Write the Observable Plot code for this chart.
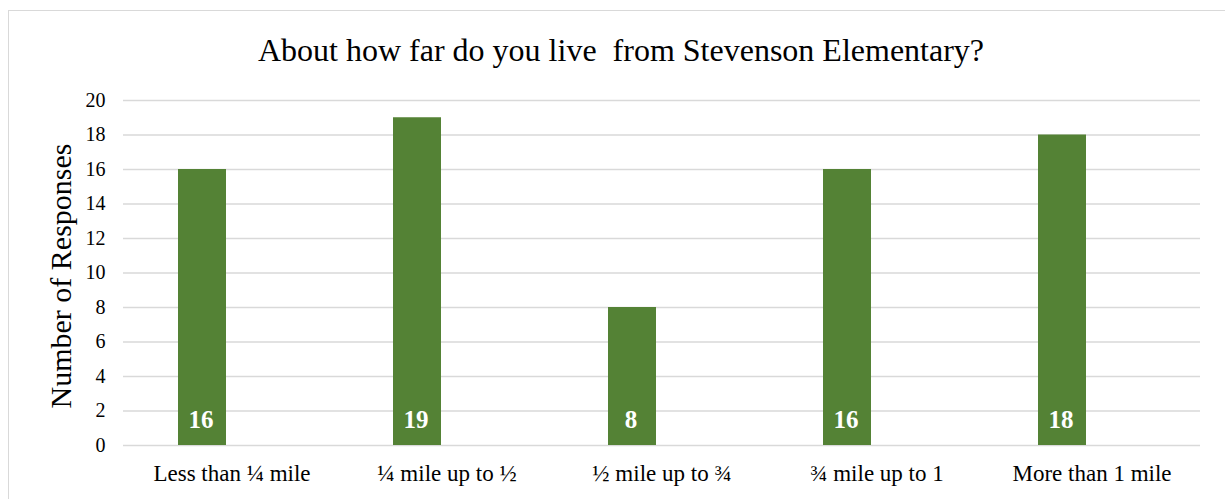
<!DOCTYPE html>
<html>
<head>
<meta charset="utf-8">
<script src="https://cdn.jsdelivr.net/npm/d3@7"></script>
<script src="https://cdn.jsdelivr.net/npm/@observablehq/plot@0.6"></script>
<style>
  body { margin: 0; background: #fff; }
  #wrap { position: relative; width: 1225px; height: 499px; overflow: hidden; }
  #border { position: absolute; left: 8px; top: 10px; width: 1240px; height: 520px; border: 1.5px solid #d9d9d9; box-sizing: border-box; }
  #chart { position: absolute; left: 0; top: 0; }
  #chart svg, #chart svg text { font-family: "Liberation Serif", "DejaVu Serif", serif !important; }
</style>
</head>
<body>
<div id="wrap"><div id="border"></div><div id="chart"></div></div>
<script>
const categories = ["Less than ¼ mile", "¼ mile up to ½", "½ mile up to ¾", "¾ mile up to 1", "More than 1 mile"];
const responses = [16, 19, 8, 16, 18];
const yTicks = [0, 2, 4, 6, 8, 10, 12, 14, 16, 18, 20];
const title = "About how far do you live  from Stevenson Elementary?";
const yLabel = "Number of Responses";

const data = categories.map((c, i) => ({category: c, value: responses[i]}));

const serif = "Liberation Serif, DejaVu Serif, serif";
const chart = Plot.plot({
  width: 1225,
  height: 499,
  marginTop: 100,
  marginBottom: 54,
  marginLeft: 123,
  marginRight: 25,
  style: {fontFamily: serif, background: "transparent", color: "#000"},
  x: {domain: categories, padding: 0},
  y: {domain: [0, 20]},
  marks: [
    Plot.ruleY(yTicks, {stroke: "#d9d9d9", strokeWidth: 1.5}),
    Plot.barY(data, {x: "category", y: "value", fill: "#548235", insetLeft: 54, insetRight: 113}),
    Plot.text(data, {x: "category", y: 0, text: d => String(d.value), dx: -31, dy: -26, fill: "#fff", fontWeight: "bold", fontSize: 25, fontFamily: serif}),
    Plot.axisY({ticks: yTicks, tickSize: 0, tickPadding: 18, fontSize: 20, label: null, fontFamily: serif}),
    Plot.axisX({tickSize: 0, tickPadding: 19, fontSize: 23, label: null, fontFamily: serif}),
    Plot.text([yLabel], {frameAnchor: "left", textAnchor: "middle", dx: -62, dy: 3, rotate: -90, fontSize: 30, fill: "#000", fontFamily: serif}),
    Plot.text([title], {frameAnchor: "top", lineAnchor: "middle", dy: -50, dx: -41, fontSize: 32, fill: "#000", fontFamily: serif})
  ]
});
document.getElementById("chart").appendChild(chart);
</script>
</body>
</html>
